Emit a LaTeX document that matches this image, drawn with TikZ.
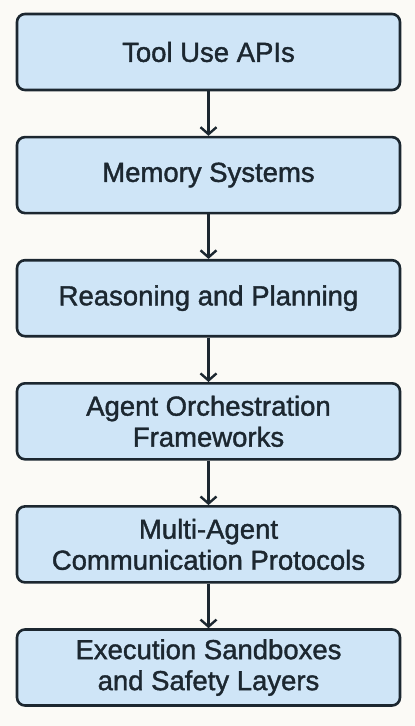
\documentclass[tikz,border=0pt]{standalone}
\usepackage{fontspec}
\setmainfont{Liberation Sans}
\newfontfamily\layerfont{Liberation Sans}[BoldFont=Liberation Sans, BoldFeatures={FakeBold=1.4}]
\usetikzlibrary{positioning,arrows.meta}
\definecolor{boxfill}{HTML}{CFE5F7}
\definecolor{boxline}{HTML}{1C2730}
\definecolor{paper}{HTML}{FBFAF6}

\begin{document}
\begin{tikzpicture}[x=1pt, y=1pt,
  layer/.style={draw=boxline, fill=boxfill, line width=2.6pt, rounded corners=8pt,
    minimum width=383pt, minimum height=76pt, inner sep=0pt, align=center,
    text=boxline, font=\layerfont\bfseries\fontsize{27.5}{31}\selectfont},
  flow/.style={draw=boxline, line width=2.4pt,
    -{Straight Barb[length=7pt, width=16pt, line width=2.4pt]}}]
% page and background
\useasboundingbox (0,0) rectangle (415,-726);
\fill[paper] (0,0) rectangle (415,-726);

% the stack of layers, top to bottom
\node[layer] (tools) at (208.5,-52) {Tool Use APIs};
\node[layer, below=44.5pt of tools] (memory) {Memory Systems};
\node[layer, below=44.5pt of memory] (reason) {Reasoning and Planning};
\node[layer, below=44.5pt of reason] (orch) {Agent Orchestration\\Frameworks};
\node[layer, below=44.5pt of orch] (comm) {Multi-Agent\\Communication Protocols};
\node[layer, below=44.5pt of comm] (sandbox) {Execution Sandboxes\\and Safety Layers};

% arrows between each pair of layers
\foreach \a/\b in {tools/memory, memory/reason, reason/orch, orch/comm, comm/sandbox}
	\draw[flow] (\a) -- (\b);

\end{tikzpicture}
\end{document}
